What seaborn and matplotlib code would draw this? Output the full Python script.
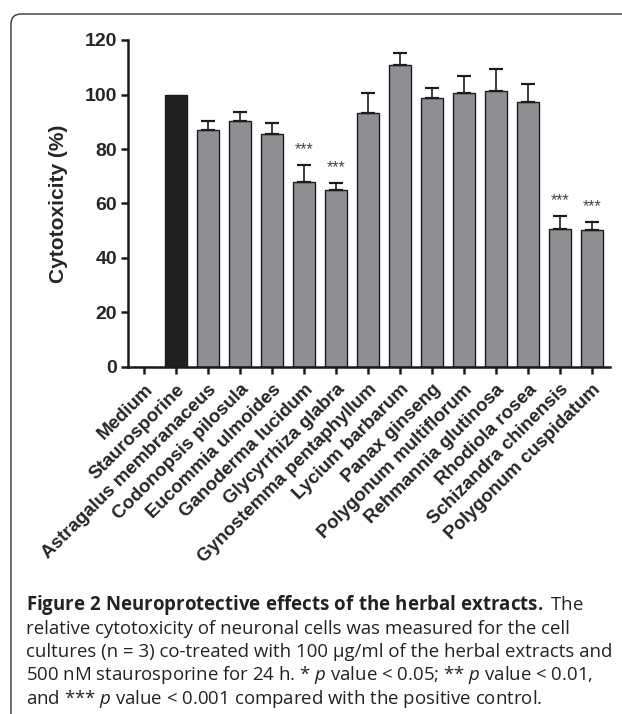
import numpy as np
import pandas as pd
import matplotlib
matplotlib.use("Agg")
import matplotlib.pyplot as plt
import seaborn as sns
from matplotlib.path import Path
from matplotlib.patches import PathPatch

# ---------------- data ----------------
categories = ["Medium", "Staurosporine", "Astragalus membranaceus", "Codonopsis pilosula",
              "Eucommia ulmoides", "Ganoderma lucidum", "Glycyrrhiza glabra",
              "Gynostemma pentaphyllum", "Lycium barbarum", "Panax ginseng",
              "Polygonum multiflorum", "Rehmannia glutinosa", "Rhodiola rosea",
              "Schizandra chinensis", "Polygonum cuspidatum"]
values = [0, 100, 87.0, 90.4, 85.5, 68.0, 64.8, 93.1, 110.8, 98.6, 100.4, 101.4, 97.1, 50.8, 50.2]
errors = [0, 0, 3.4, 3.3, 4.0, 6.1, 2.7, 7.6, 4.4, 3.8, 6.5, 8.0, 6.9, 4.5, 3.0]
significance = ["", "", "", "", "", "***", "***", "", "", "", "", "", "", "***", "***"]
yticks = [0, 20, 40, 60, 80, 100, 120]
ylabel = "Cytotoxicity (%)"
caption_lines = [
    r"$\mathbf{Figure\ 2\ Neuroprotective\ effects\ of\ the\ herbal\ extracts.}$ The",
    "relative cytotoxicity of neuronal cells was measured for the cell",
    "cultures (n = 3) co-treated with 100 µg/ml of the herbal extracts and",
    r"500 nM staurosporine for 24 h. * $p$ value < 0.05; ** $p$ value < 0.01,",
    r"and *** $p$ value < 0.001 compared with the positive control.",
]

# ---------------- style ----------------
sns.set_style("ticks")
plt.rcParams["font.family"] = ["Liberation Sans", "DejaVu Sans"]
plt.rcParams["mathtext.fontset"] = "custom"
plt.rcParams["mathtext.rm"] = "Open Sans"
plt.rcParams["mathtext.it"] = "Open Sans:italic"
plt.rcParams["mathtext.bf"] = "Open Sans:bold"

W, H = 622, 714
fig = plt.figure(figsize=(W / 100, H / 100), dpi=100)
fig.patch.set_facecolor("white")

ax = fig.add_axes([128 / W, 1 - 367 / H, 482 / W, 327 / H])
ax.set_facecolor("white")

df = pd.DataFrame({"category": categories, "value": values, "err": errors})
colors = {c: ("#1f2022" if c == "Staurosporine" else "#8e8f93") for c in categories}

sns.barplot(data=df, x="category", y="value", hue="category", palette=colors,
            legend=False, width=0.69, edgecolor="#1c1c1c", linewidth=1.0,
            saturation=1, errorbar=None, ax=ax, zorder=2)

# upward-only error bars
mask = df["err"] > 0
xs = np.arange(len(categories))[mask.values]
ax.errorbar(xs, df["value"][mask], yerr=[np.zeros(mask.sum()), df["err"][mask]],
            fmt="none", ecolor="#1c1c1c", elinewidth=1.2, capsize=5, capthick=1.6,
            zorder=3)

for i, (v, e, s) in enumerate(zip(values, errors, significance)):
    if s:
        ax.annotate(s, xy=(i, v + e), xytext=(0, 6), textcoords="offset points",
                    ha="center", va="bottom", fontsize=11.5, color="#444444")

ax.set_xlim(-0.5, 14.56)
ax.set_ylim(0, 120)
ax.set_yticks(yticks)
ax.set_yticklabels([str(t) for t in yticks], fontsize=14, fontweight="bold")
ax.set_xticks(range(len(categories)))
ax.set_xticklabels(categories, rotation=45, ha="right", rotation_mode="anchor",
                   fontsize=13.5, fontweight="bold")
ax.set_xlabel("")
ax.set_ylabel(ylabel, fontsize=15, fontweight="bold")
ax.yaxis.set_label_coords(-0.124, 0.5)

for side in ["top", "right"]:
    ax.spines[side].set_visible(False)
for side in ["left", "bottom"]:
    ax.spines[side].set_linewidth(1.8)
    ax.spines[side].set_color("#1a1a1a")
ax.tick_params(axis="both", direction="out", length=5, width=1.8, color="#1a1a1a")
ax.tick_params(axis="x", pad=5)
ax.tick_params(axis="y", pad=3)

# ---------------- frame (rounded top-left corner) ----------------
r = 10
px = lambda x, y: (x / W, 1 - y / H)
verts = [px(11, H), px(11, 14 + r), px(11, 14), px(11 + r, 14), px(W, 14)]
codes = [Path.MOVETO, Path.LINETO, Path.CURVE3, Path.CURVE3, Path.LINETO]
frame = PathPatch(Path(verts, codes), transform=fig.transFigure, fill=False,
                  edgecolor="#333333", linewidth=1.0)
fig.patches.append(frame)

# ---------------- caption ----------------
for k, line in enumerate(caption_lines):
    yb = 610 + 23.5 * k
    fig.text(26 / W, 1 - yb / H, line, ha="left", va="baseline",
             fontsize=13.4, family="Open Sans", color="#222222")

fig.savefig("out.png", dpi=100, facecolor="white")
